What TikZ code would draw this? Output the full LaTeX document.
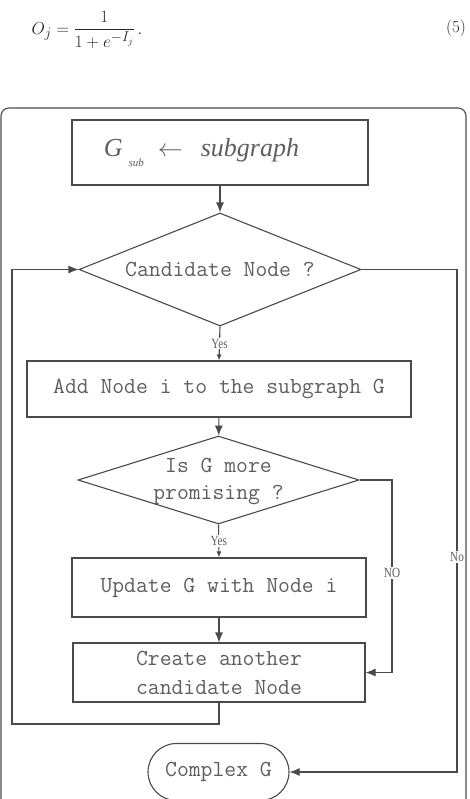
\documentclass[tikz,border=0pt]{standalone}
\usepackage{amsmath}
\usepackage{fontspec}
\usepackage{tikz}
\usetikzlibrary{shapes.geometric,shapes.misc,arrows.meta}
\newfontfamily\lblfont[FakeStretch=0.8]{Liberation Serif}
\newfontfamily\titlefont{Liberation Serif}
\definecolor{linegray}{HTML}{4A4A4A}
\definecolor{textgray}{HTML}{5E5E5E}

\begin{document}
\begin{tikzpicture}[x=1pt,y=-1pt,line width=1.1pt,draw=linegray,
        >={Latex[length=10pt,width=8pt]},
        box/.style={draw=linegray,rectangle,inner sep=0pt,text=textgray,align=center,
            font=\ttfamily\fontsize{23}{29}\selectfont},
        decision/.style={draw=linegray,diamond,inner sep=0pt},
        dtext/.style={text=textgray,align=center,font=\ttfamily\fontsize{23}{27}\selectfont},
        lbl/.style={fill=white,inner sep=1pt,text=textgray,font=\lblfont\fontsize{14}{14}\selectfont},
        smallarr/.style={-{Latex[length=6pt,width=5pt]}}]
    \useasboundingbox (0,0) rectangle (469,799);
    \clip (0,0) rectangle (469,799);
        \node[text=black!85,font=\fontsize{19}{22}\selectfont] (eq) at (87,30) {$O_j = \dfrac{1}{1+e^{-I_j}}\,.$};
        \node[text=black!85,font=\fontsize{17}{20}\selectfont] (eqno) at (456,28) {(5)};
        \draw[linegray,rounded corners=8pt] (1,108) rectangle (466,860);
        \node[box,minimum width=296pt,minimum height=65pt,font=\titlefont\itshape\fontsize{26}{30}\selectfont] (init) at (220,152.5)
            {G\hspace{6pt}\raisebox{-10pt}{\fontsize{11}{11}\selectfont sub}\hspace{14pt}$\leftarrow$\hspace{18pt}subgraph\hspace*{37pt}};
        \node[decision,minimum width=282pt,minimum height=113pt] (cand) at (220,269.5) {};
        \node[dtext] (candtxt) at (cand) {Candidate Node ?};
        \node[box,minimum width=384pt,minimum height=56pt] (add) at (219,389) {Add Node i to the subgraph G};
        \node[decision,minimum width=281pt,minimum height=88pt] (better) at (218.5,480) {};
        \node[dtext] (bettertxt) at (218.5,481) {Is G more\\promising ?};
        \node[box,minimum width=294pt,minimum height=59pt] (upd) at (219,587.5) {Update G with Node i};
        \node[box,minimum width=292pt,minimum height=59pt] (cre) at (219,672.5) {Create another\\candidate Node};
        \node[box,rounded rectangle,minimum width=141pt,minimum height=57pt] (cplx) at (218.5,772) {Complex G};
        \coordinate (loopL) at (12,724);
        \coordinate (noX) at (457,0);
        \coordinate (NOX) at (392,0);
        \foreach \a/\b in {init/cand,add/better,upd/cre}
            \draw[->] (\a) -- (\b);
        \draw[smallarr] (cand.south) -- node[lbl] {Yes} (add.north);
        \draw[smallarr] (better.south) -- node[lbl] {Yes} (upd.north);
        \draw[->] (cre.south) |- (loopL) |- (cand.west);
        \draw[->] (cand.east) -- (cand.east -| noX) -- node[lbl,pos=0.572] {No} (cplx.east -| noX) -- (cplx.east);
        \draw[->] (better.east) -- (better.east -| NOX) -- node[lbl,pos=0.483] {NO} (cre.east -| NOX) -- (cre.east);
    \end{tikzpicture}
\end{document}
